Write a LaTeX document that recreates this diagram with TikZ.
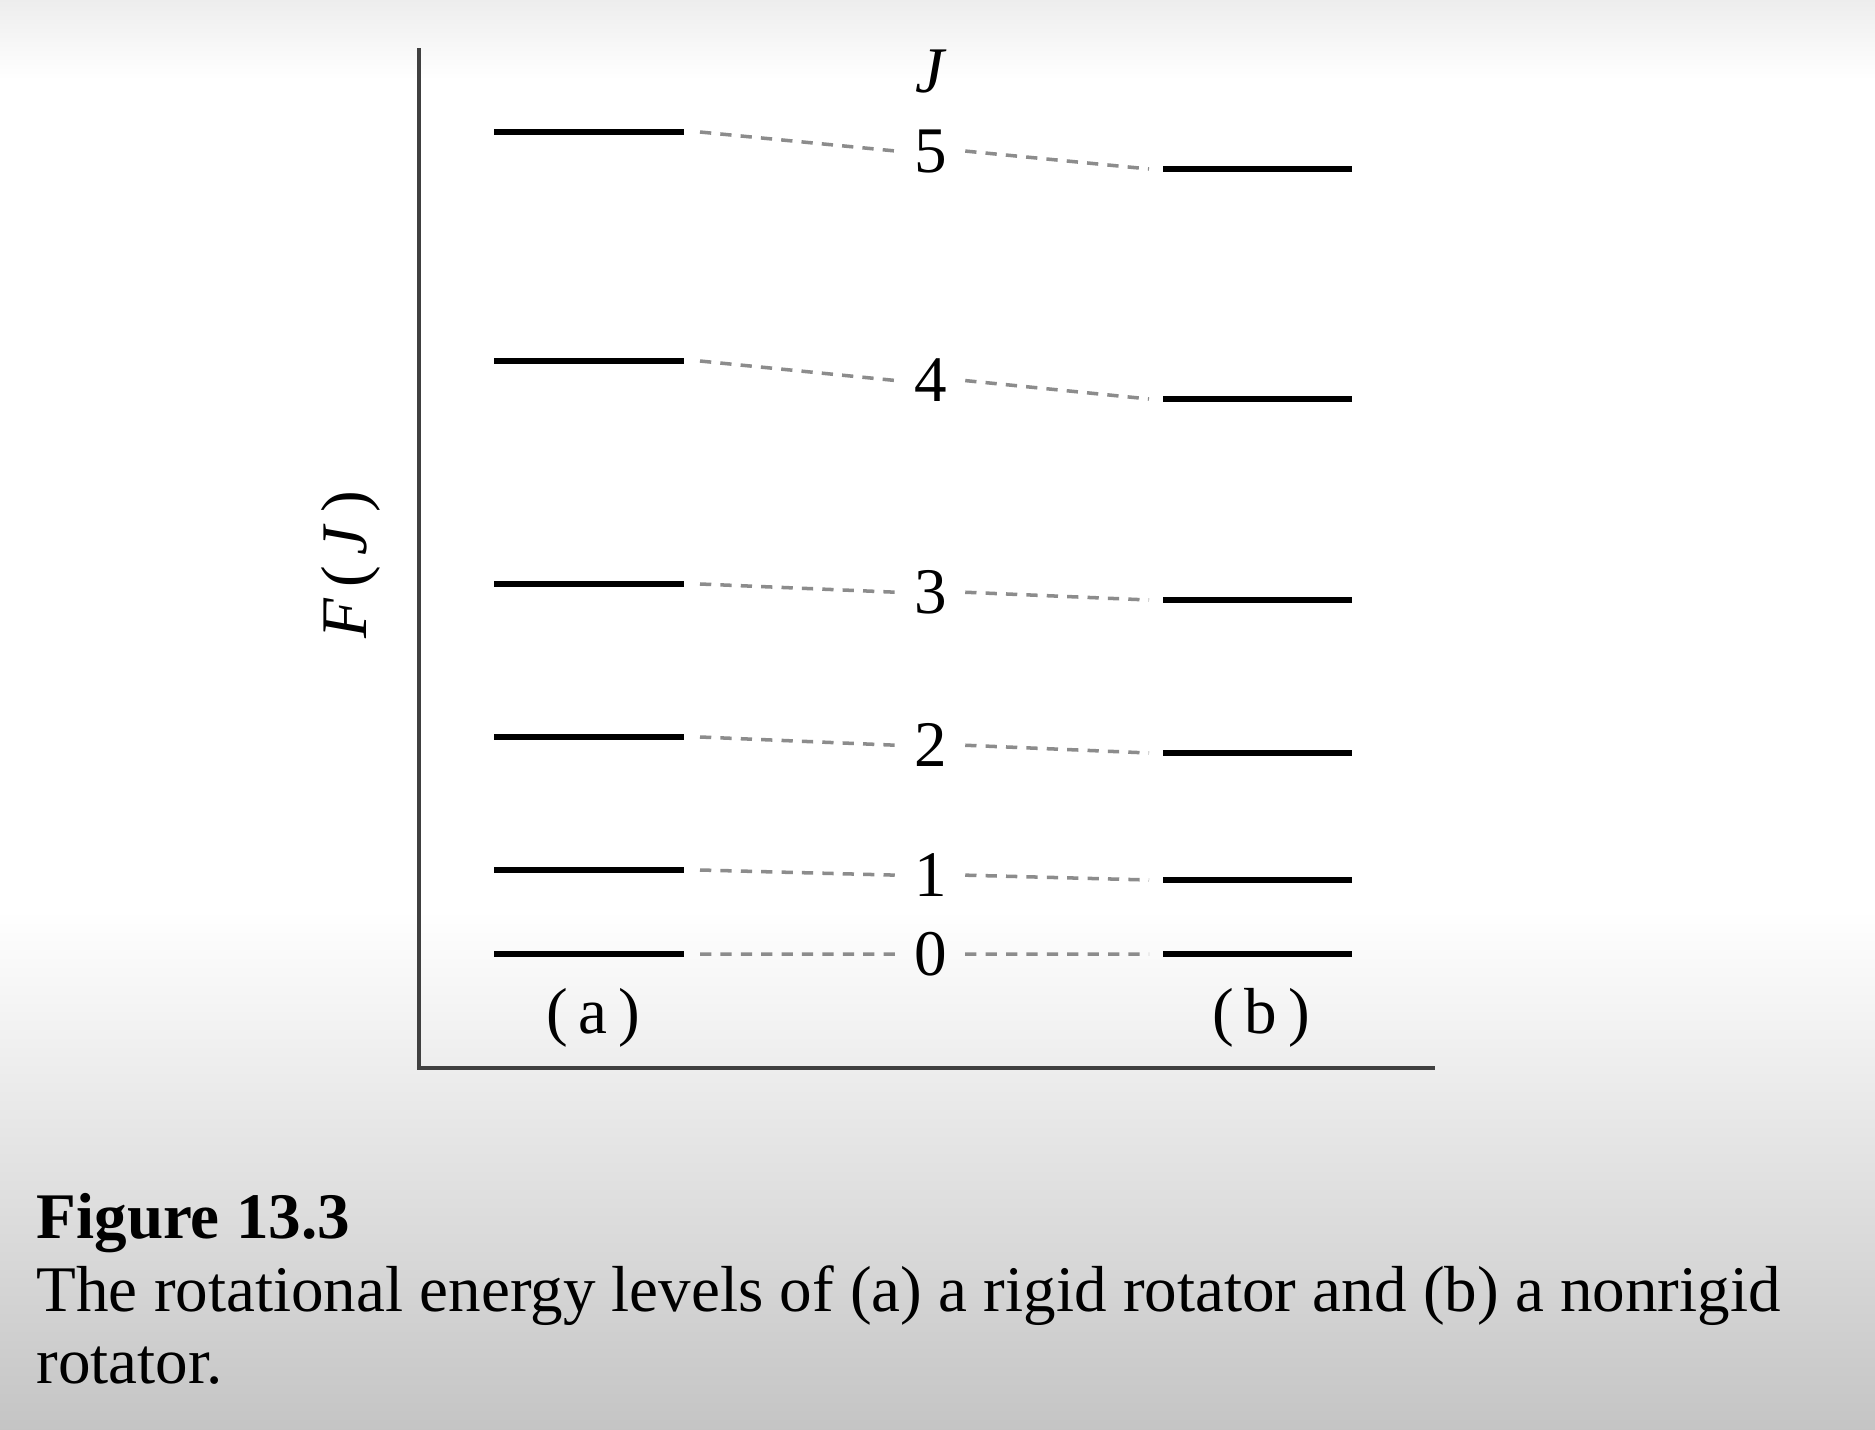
\documentclass[tikz,border=0pt]{standalone}
\usepackage{fontspec}
\setmainfont{Liberation Serif}
\usepackage{tikz}
\usetikzlibrary{calc,positioning}

\begin{document}
\begin{tikzpicture}[x=0.01cm,y=-0.01cm,
		level/.style={line width=6*0.2845pt},
		link/.style={black!45,line width=1pt,dash pattern=on 3.2pt off 2.6pt},
		lbl/.style={font=\fontsize{18.5}{22}\selectfont,inner sep=5pt},
		captext/.style={anchor=base west,inner sep=0pt,font=\fontsize{18.5}{22}\selectfont}]
		% background
		\useasboundingbox (0,0) rectangle (1875,1430);
		\fill[white] (0,0) rectangle (1875,1430);
		\shade[top color=black!7,bottom color=white] (0,0) rectangle (1875,80);
		\shade[top color=white,bottom color=black!23] (0,910) rectangle (1875,1430);
		
		% axes
		\coordinate (top) at (419,48);
		\coordinate (end) at (1435,1068);
		\draw[black!75,line width=1.1pt] (top) |- (end);
		\node[lbl,rotate=90] (fj) at (351,565) {\textit{F}\,(\,\textit{J}\,)};
		\node[lbl] (jlab) at (931,72) {\textit{J}};
		
		% levels: J / rigid / nonrigid
		\foreach \j/\ya/\yb in {0/954/954,1/870/880,2/737/753,3/584/600,4/361/399,5/132/169} {
			\coordinate (a\j w) at (494,\ya);
			\coordinate (a\j e) at (684,\ya);
			\coordinate (b\j w) at (1163,\yb);
			\coordinate (b\j e) at (1352,\yb);
			\draw[level] (a\j w) -- (a\j e);
			\draw[level] (b\j w) -- (b\j e);
			\node[lbl] (n\j) at ($(a\j e)!0.515!(b\j w)$) {\j};
			\draw[link] ($(a\j e)+(16,0)$) -- (n\j.west);
			\draw[link] (n\j.east) -- ($(b\j w)+(-14,0)$);
		}
		\node[lbl] (la) at (593,1018) {(\,a\,)};
		\node[lbl] (lb) at (1261,1018) {(\,b\,)};
		
		% caption
		\node[captext,font=\fontsize{18.5}{22}\selectfont\bfseries] (fig) at (36,1238) {Figure 13.3};
		\node[captext] (cap1) at (36,1311) {The rotational energy levels of (a) a rigid rotator and (b) a nonrigid};
		\node[captext] (cap2) at (36,1383) {rotator.};
	\end{tikzpicture}
\end{document}
